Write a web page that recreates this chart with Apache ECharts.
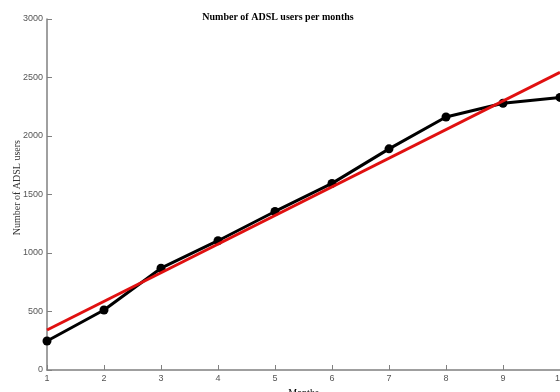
<!DOCTYPE html>
<html><head><meta charset="utf-8">
<script src="https://cdn.jsdelivr.net/npm/echarts@6/dist/echarts.min.js"></script>
<style>html,body{margin:0;padding:0;background:#fff}#c{width:560px;height:392px}</style>
</head><body><div id="c"></div>
<script>
const months = [1,2,3,4,5,6,7,8,9,10];
const users = [248,513,870,1105,1355,1595,1890,2162,2280,2330];
const fitStart = [1, 342];
const fitEnd = [10, 2545];
const yTicks = [0,500,1000,1500,2000,2500,3000];
const title = 'Number of ADSL users per months';

const chart = echarts.init(document.getElementById('c'));
chart.setOption({
  animation:false,
  backgroundColor:'#fff',
  title:{text:title,left:273,top:7,textAlign:'center',
    textStyle:{fontFamily:'Liberation Serif',fontSize:10,fontWeight:'bold',color:'#000'}},
  grid:{left:47,right:0,top:19,bottom:22,outerBoundsMode:'none',containLabel:false},
  xAxis:{type:'value',min:1,max:10,interval:1,
    name:'Months',nameLocation:'middle',nameGap:18,
    nameTextStyle:{fontFamily:'Liberation Serif',fontSize:10,color:'#000'},
    axisLine:{lineStyle:{color:'#808080',width:1.5}},
    axisTick:{inside:true,length:5,lineStyle:{color:'#808080'}},
    axisLabel:{fontFamily:'Liberation Sans',fontSize:9,color:'#555',margin:4,showMaxLabel:true},
    splitLine:{show:false}},
  yAxis:{type:'value',min:0,max:3000,interval:500,
    axisLine:{show:true,lineStyle:{color:'#808080',width:1.5}},
    axisTick:{show:true,inside:true,length:5,lineStyle:{color:'#808080'}},
    axisLabel:{fontFamily:'Liberation Sans',fontSize:9,color:'#555',margin:4,
      formatter:v=>yTicks.includes(v)?String(v):''},
    splitLine:{show:false}},
  graphic:[{type:'text',left:12,top:140,rotation:Math.PI/2,
    style:{text:'Number of ADSL users',font:'10px "Liberation Serif"',fill:'#333'}}],
  series:[
    {type:'line',data:months.map((m,i)=>[m,users[i]]),
      lineStyle:{color:'#000',width:3},itemStyle:{color:'#000'},
      symbol:'circle',symbolSize:9,z:2,clip:false},
    {type:'line',data:[fitStart,fitEnd],symbol:'none',
      lineStyle:{color:'#e01010',width:3},z:3}
  ]
});
</script></body></html>
